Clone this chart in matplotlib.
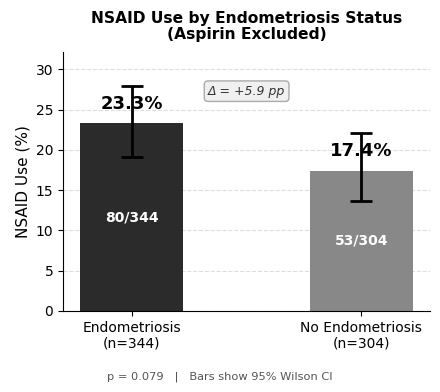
import matplotlib
matplotlib.use("Agg")
import matplotlib.pyplot as plt
import numpy as np

categories = ["Endometriosis\n(n=344)", "No Endometriosis\n(n=304)"]
counts = [80, 53]
totals = [344, 304]
pcts = [23.3, 17.4]
ci_low = [19.1, 13.6]
ci_high = [28.0, 22.1]
colors = ["#2b2b2b", "#888888"]

fig, ax = plt.subplots(figsize=(4.4, 3.92), dpi=100)
x = np.arange(len(categories))
yerr = [np.array(pcts) - np.array(ci_low), np.array(ci_high) - np.array(pcts)]
ax.bar(x, pcts, width=0.45, color=colors, zorder=2)
ax.errorbar(x, pcts, yerr=yerr, fmt="none", ecolor="black", elinewidth=2,
            capsize=8, capthick=2, zorder=3)
for xi, p, c, t in zip(x, pcts, counts, totals):
    ax.text(xi, p + 1.3, f"{p:.1f}%", ha="center", va="bottom",
            fontsize=13, fontweight="bold", zorder=4)
    ax.text(xi, p / 2, f"{c}/{t}", ha="center", va="center",
            fontsize=10, fontweight="bold", color="white", zorder=4)

ax.text(0.5, 27.3, f"Δ = +{pcts[0]-pcts[1]:.1f} pp", ha="center", va="center",
        fontsize=9, style="italic", color="#333333",
        bbox=dict(boxstyle="round,pad=0.3", facecolor="#f0f0f0", edgecolor="#aaaaaa"))

ax.set_xlim(-0.3, 1.3)
ax.set_ylim(0, 32.2)
ax.set_xticks(x)
ax.set_xticklabels(categories, fontsize=10)
ax.set_yticks([0, 5, 10, 15, 20, 25, 30])
ax.tick_params(axis="y", labelsize=10)
ax.set_ylabel("NSAID Use (%)", fontsize=11)
ax.set_title("NSAID Use by Endometriosis Status\n(Aspirin Excluded)",
             fontsize=11.2, fontweight="bold", pad=9, linespacing=1.1)
ax.yaxis.grid(True, linestyle="--", color="#dddddd", zorder=0)
ax.set_axisbelow(True)
ax.spines["top"].set_visible(False)
ax.spines["right"].set_visible(False)

fig.text(0.5, 0.032, "p = 0.079   |   Bars show 95% Wilson CI", ha="center",
         fontsize=8.2, color="#555555")
fig.subplots_adjust(left=0.143, right=0.978, top=0.868, bottom=0.207)
fig.savefig("out.png", dpi=100)
